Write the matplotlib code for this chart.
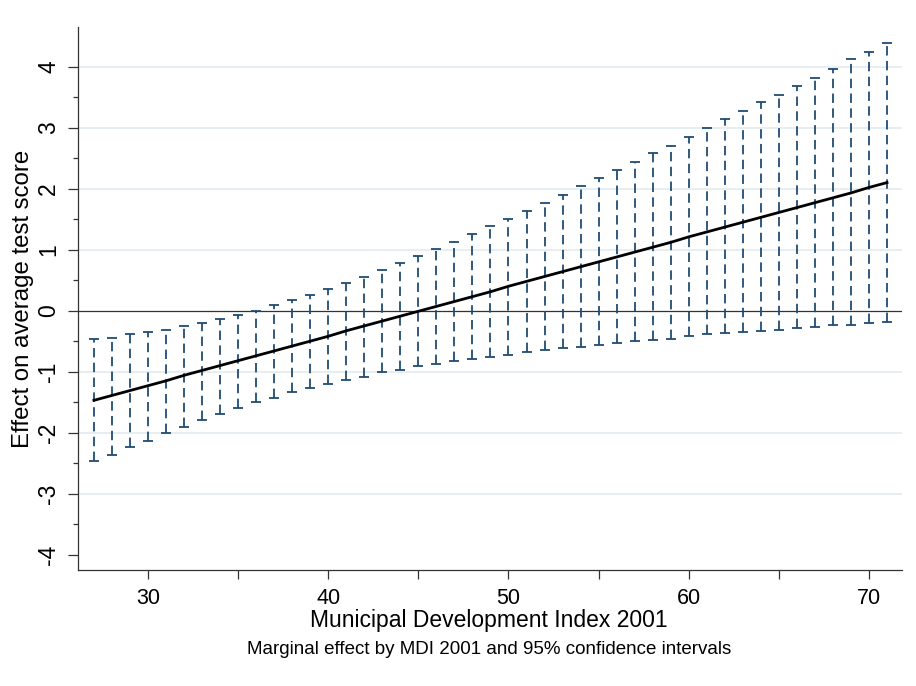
import matplotlib
matplotlib.use("Agg")
import matplotlib.pyplot as plt

# ---- data ----
mdi = list(range(27, 72))
effect = [-1.47, -1.39, -1.31, -1.23, -1.15, -1.06, -0.98, -0.90, -0.82, -0.74,
          -0.66, -0.58, -0.50, -0.42, -0.33, -0.25, -0.17, -0.09, -0.01, 0.07,
          0.15, 0.23, 0.31, 0.40, 0.48, 0.56, 0.64, 0.72, 0.80, 0.88,
          0.96, 1.04, 1.12, 1.21, 1.29, 1.37, 1.45, 1.53, 1.61, 1.69,
          1.77, 1.85, 1.93, 2.02, 2.10]
ci_upper = [-0.47, -0.44, -0.39, -0.35, -0.31, -0.25, -0.20, -0.14, -0.07, 0.00,
            0.09, 0.17, 0.26, 0.36, 0.46, 0.55, 0.67, 0.78, 0.89, 1.01,
            1.12, 1.25, 1.38, 1.51, 1.64, 1.76, 1.89, 2.04, 2.18, 2.30,
            2.43, 2.58, 2.70, 2.85, 2.99, 3.14, 3.27, 3.42, 3.54, 3.68,
            3.82, 3.96, 4.12, 4.24, 4.39]
ci_lower = [-2.47, -2.37, -2.24, -2.13, -2.01, -1.90, -1.79, -1.70, -1.59, -1.50,
            -1.43, -1.33, -1.27, -1.21, -1.13, -1.08, -1.01, -0.97, -0.91, -0.87,
            -0.82, -0.80, -0.76, -0.72, -0.67, -0.65, -0.61, -0.59, -0.56, -0.53,
            -0.50, -0.48, -0.46, -0.42, -0.39, -0.37, -0.35, -0.33, -0.31, -0.28,
            -0.26, -0.24, -0.23, -0.20, -0.18]
x_ticks = [30, 40, 50, 60, 70]
x_minor = [35, 45, 55, 65]
y_ticks = [-4, -3, -2, -1, 0, 1, 2, 3, 4]
y_minor = [-3.5, -2.5, -1.5, -0.5, 0.5, 1.5, 2.5, 3.5]
grid_levels = [-3, -2, -1, 1, 2, 3, 4]

xlabel = "Municipal Development Index 2001"
ylabel = "Effect on average test score"
caption = "Marginal effect by MDI 2001 and 95% confidence intervals"

plt.rcParams['font.family'] = ['Liberation Sans', 'DejaVu Sans']

fig = plt.figure(figsize=(9.16, 6.86), dpi=100)
ax = fig.add_axes([0.0848, 0.1695, 0.9847 - 0.0848, 0.9606 - 0.1695])

bar_color = '#1f4c74'
axis_color = '#333333'

for g in grid_levels:
    ax.axhline(g, color='#e6eef1', lw=1.4, zorder=0)
ax.axhline(0, color=axis_color, lw=0.9, zorder=1)

ax.vlines(mdi, ci_lower, ci_upper, colors=bar_color, lw=1.3,
          linestyles=(0, (5.2, 3.0)), zorder=2)
ax.plot(mdi, ci_upper, ls='none', marker='_', ms=7.5, mew=1.3,
        color=bar_color, zorder=2)
ax.plot(mdi, ci_lower, ls='none', marker='_', ms=7.5, mew=1.3,
        color=bar_color, zorder=2)
ax.plot(mdi, effect, color='black', lw=2.0, zorder=3)

ax.set_xlim(26.1, 71.83)
ax.set_ylim(-4.247, 4.65)

ax.set_xticks(x_ticks)
ax.set_xticks(x_minor, minor=True)
ax.set_yticks(y_ticks)
ax.set_yticks(y_minor, minor=True)
ax.set_xticklabels([str(v) for v in x_ticks])
ax.set_yticklabels([str(v) for v in y_ticks], rotation=90, va='center')

for s in ['top', 'right']:
    ax.spines[s].set_visible(False)
for s in ['left', 'bottom']:
    ax.spines[s].set_color(axis_color)
    ax.spines[s].set_linewidth(0.9)

ax.tick_params(axis='x', which='major', length=6.5, width=0.9, color=axis_color,
               labelsize=15.5, pad=7)
ax.tick_params(axis='x', which='minor', length=6.5, width=0.9, color=axis_color)
ax.tick_params(axis='y', which='major', length=7.5, width=0.9, color=axis_color,
               labelsize=16.5, pad=5)
ax.tick_params(axis='y', which='minor', length=3.6, width=0.9, color=axis_color)

fig.text(0.534, 0.0948, xlabel, ha='center', va='center', fontsize=16.5)
fig.text(0.534, 0.0525, caption, ha='center', va='center', fontsize=13.5)
fig.text(0.025, 0.565, ylabel, ha='center', va='center', rotation=90, fontsize=17.3)

fig.savefig('out.png', dpi=100, facecolor='white')
